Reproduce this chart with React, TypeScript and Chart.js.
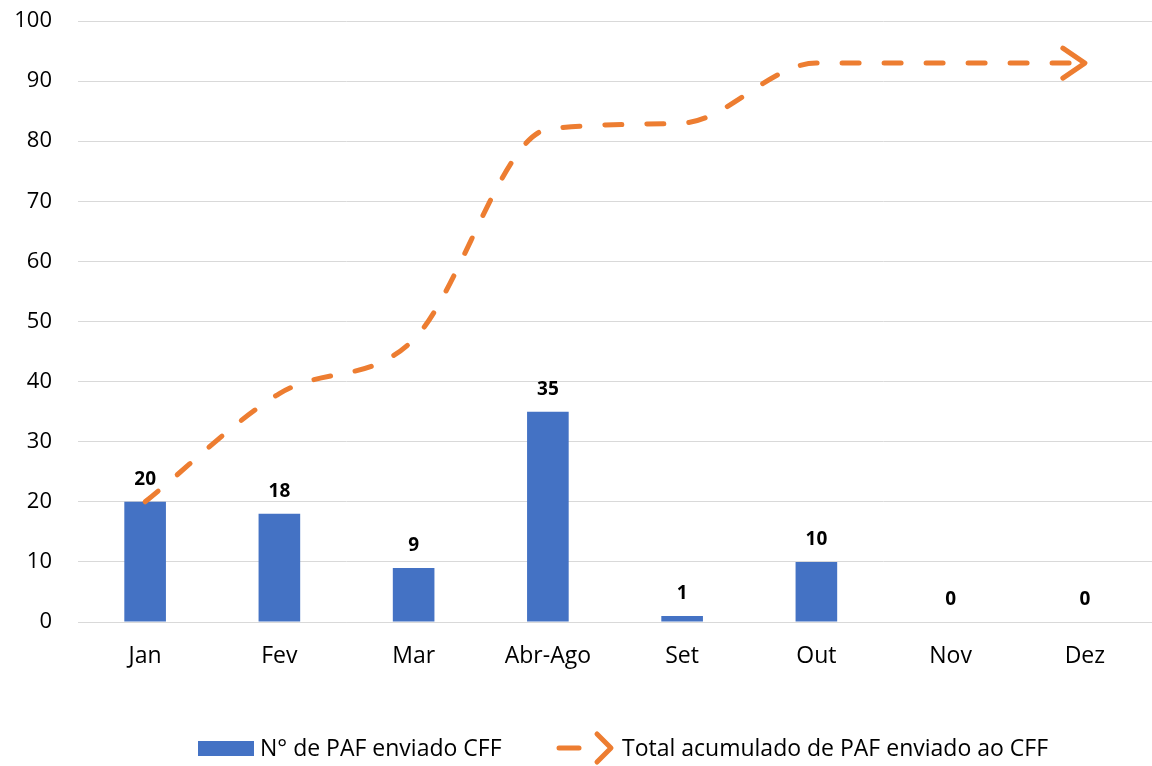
import React, { useEffect, useRef } from "react";
import { Chart, registerables } from "chart.js";

Chart.register(...registerables);

const categories = ["Jan", "Fev", "Mar", "Abr-Ago", "Set", "Out", "Nov", "Dez"];
const monthlyValues = [20, 18, 9, 35, 1, 10, 0, 0];
const cumulativeValues = [20, 38, 47, 82, 83, 93, 93, 93];
const barLabel = "N° de PAF enviado CFF";
const lineLabel = "Total acumulado de PAF enviado ao CFF";

const BLUE = "#4472C4";
const ORANGE = "#ED7D31";
const FONT = "'Open Sans', sans-serif";

export default function App() {
  const ref = useRef<HTMLCanvasElement | null>(null);

  useEffect(() => {
    document.body.style.margin = "0";
    const canvas = ref.current;
    if (!canvas) return;

    const labelPlugin = {
      id: "barLabels",
      afterDatasetsDraw(chart: any) {
        const ctx = chart.ctx;
        const meta = chart.getDatasetMeta(1);
        ctx.save();
        ctx.font = `bold 19px ${FONT}`;
        ctx.fillStyle = "#000";
        ctx.textAlign = "center";
        ctx.textBaseline = "alphabetic";
        meta.data.forEach((el: any, i: number) => {
          ctx.fillText(String(monthlyValues[i]), el.x, el.y - 17);
        });
        ctx.restore();
      },
    };

    const arrowPlugin = {
      id: "arrowHead",
      afterDraw(chart: any) {
        const ctx = chart.ctx;
        const meta = chart.getDatasetMeta(0);
        const last = meta.data[meta.data.length - 1];
        ctx.save();
        ctx.strokeStyle = ORANGE;
        ctx.lineWidth = 5;
        ctx.lineCap = "round";
        ctx.lineJoin = "round";
        ctx.beginPath();
        ctx.moveTo(last.x - 22, last.y - 15);
        ctx.lineTo(last.x, last.y);
        ctx.lineTo(last.x - 22, last.y + 15);
        ctx.stroke();

        // legend
        const cy = chart.height - 18;
        const cx = chart.width / 2;
        ctx.font = `23px ${FONT}`;
        ctx.textBaseline = "middle";
        ctx.textAlign = "left";
        ctx.fillStyle = BLUE;
        ctx.fillRect(cx - 378, cy - 7, 56, 15);
        ctx.fillStyle = "#000";
        ctx.fillText(barLabel, cx - 316, cy + 1);
        ctx.strokeStyle = ORANGE;
        ctx.beginPath();
        ctx.moveTo(cx - 17, cy);
        ctx.lineTo(cx + 3, cy);
        ctx.stroke();
        ctx.beginPath();
        ctx.moveTo(cx + 21, cy - 14);
        ctx.lineTo(cx + 35, cy);
        ctx.lineTo(cx + 21, cy + 14);
        ctx.stroke();
        ctx.fillText(lineLabel, cx + 46, cy + 1);
        ctx.restore();
      },
    };

    const chart = new Chart(canvas, {
      type: "bar",
      data: {
        labels: categories,
        datasets: [
          {
            type: "line",
            label: lineLabel,
            data: cumulativeValues,
            borderColor: ORANGE,
            backgroundColor: ORANGE,
            borderWidth: 5,
            borderDash: [17, 25],
            borderCapStyle: "round",
            pointRadius: 0,
            cubicInterpolationMode: "monotone",
            order: 0,
          } as any,
          {
            type: "bar",
            label: barLabel,
            data: monthlyValues,
            backgroundColor: BLUE,
            categoryPercentage: 1,
            barPercentage: 0.31,
            order: 1,
          },
        ],
      },
      options: {
        animation: false,
        responsive: false,
        layout: { padding: { top: 21, right: 0, left: 0, bottom: 0 } },
        plugins: {
          legend: { display: false },
          tooltip: { enabled: false },
        },
        scales: {
          x: {
            grid: { display: false, drawTicks: false },
            border: { display: true, color: "#D9D9D9", width: 1 },
            ticks: { color: "#000", font: { family: FONT, size: 23 }, padding: 21 },
            afterFit(scale: any) {
              scale.height = 144;
            },
          },
          y: {
            min: 0,
            max: 100,
            ticks: { stepSize: 10, color: "#000", font: { family: FONT, size: 22 }, padding: 0 },
            grid: {
              color: "#D9D9D9",
              lineWidth: 1,
              drawTicks: true,
              tickLength: 26,
              tickColor: "rgba(0,0,0,0)",
            },
            border: { display: false },
            afterFit(scale: any) {
              scale.width = 78;
            },
          },
        },
      },
      plugins: [labelPlugin, arrowPlugin],
    });

    return () => chart.destroy();
  }, []);

  return <canvas ref={ref} width={1152} height={766} style={{ display: "block" }} />;
}
